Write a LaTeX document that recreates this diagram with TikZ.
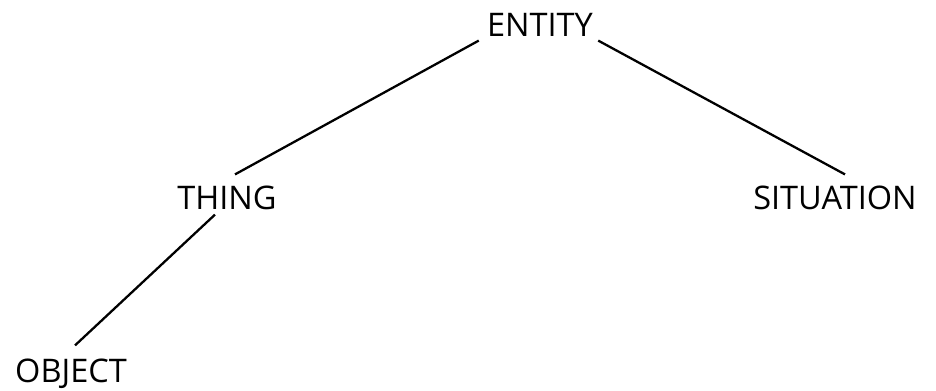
\documentclass[tikz,border=0pt]{standalone}
\usepackage{fontspec}
\setmainfont{Open Sans}
\usepackage{tikz}
\usetikzlibrary{positioning}

\begin{document}
\begin{tikzpicture}[x=0.02cm, y=-0.02cm]
            \tikzstyle{concept} = [inner sep=0pt, font=\fontsize{18.5}{20}\selectfont, text height=0.45cm, text depth=0pt, anchor=center]
            \tikzstyle{link} = [line width=1.3pt]

            \useasboundingbox (0,0) rectangle (936,390);

            \node [concept] (entity) at (540,25) {ENTITY};
            \node [concept] (thing) at (227,198) {THING};
            \node [concept] (situation) at (835,198) {SITUATION};
            \node [concept] (object) at (71,371) {OBJECT};

            \draw [link] ([shift={(-8,4)}]entity.south west) -- ([shift={(8,-12)}]thing.north);
            \draw [link] ([shift={(5,4)}]entity.south east) -- ([shift={(10,-12)}]situation.north);
            \draw [link] ([shift={(-12,5)}]thing.south) -- ([shift={(4,-14)}]object.north);
        \end{tikzpicture}
\end{document}
